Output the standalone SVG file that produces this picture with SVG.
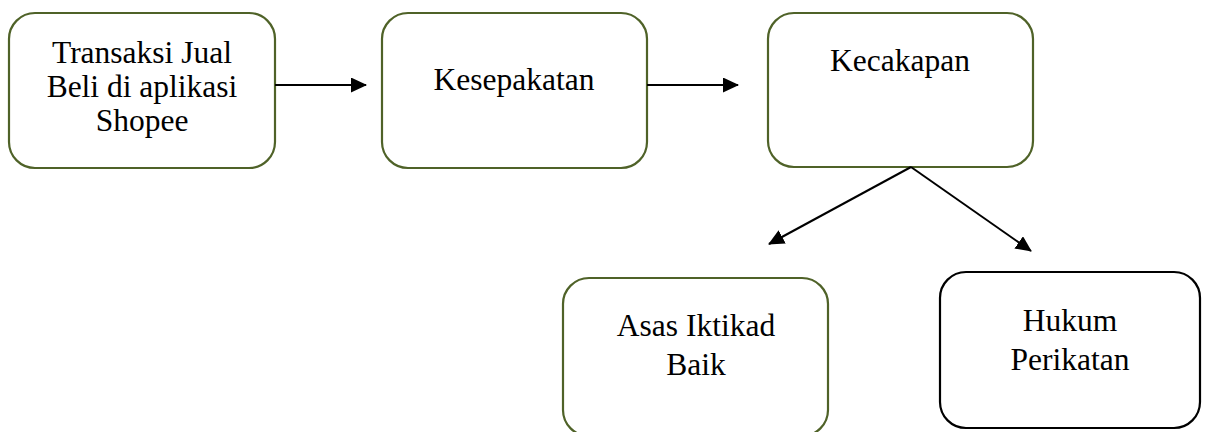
<svg xmlns="http://www.w3.org/2000/svg" width="1208" height="432" viewBox="0 0 1208 432">
<style>
.box{fill:#fff;stroke:#4F6228;stroke-width:2.2}
.boxk{fill:#fff;stroke:#000;stroke-width:2.2}
.t{font-family:'Liberation Serif', Tinos, 'Times New Roman', serif;font-size:31.5px;fill:#000;text-anchor:middle}
.c{stroke:#000;stroke-width:2;fill:none;marker-end:url(#ah)}
</style>
<defs>
<marker id="ah" markerWidth="16" markerHeight="15" refX="15" refY="7.5" orient="auto" markerUnits="userSpaceOnUse" viewBox="0 0 16 15">
<path d="M0,0 L16,7.5 L0,15 z" fill="#000"/>
</marker>
</defs>
<rect width="1208" height="432" fill="#fff"/>
<g id="n1"><rect class="box" x="9" y="13" width="266" height="155" rx="26"/>
<text class="t" x="142" y="63">Transaksi Jual</text>
<text class="t" x="142" y="97">Beli di aplikasi</text>
<text class="t" x="142" y="131">Shopee</text></g>
<g id="n2"><rect class="box" x="382" y="13" width="265" height="155" rx="26"/>
<text class="t" x="514" y="90">Kesepakatan</text></g>
<g id="n3"><rect class="box" x="768" y="13" width="265" height="154" rx="26"/>
<text class="t" x="900" y="71">Kecakapan</text></g>
<g id="n4"><rect class="box" x="563" y="278" width="265" height="158" rx="26"/>
<text class="t" x="696" y="336">Asas Iktikad</text>
<text class="t" x="696" y="375">Baik</text></g>
<g id="n5"><rect class="boxk" x="940" y="272" width="260" height="156" rx="26"/>
<text class="t" x="1070" y="331">Hukum</text>
<text class="t" x="1070" y="370">Perikatan</text></g>
<g id="connectors">
<path class="c" d="M275,85 L366,85"/>
<path class="c" d="M647,85 L738,85"/>
<path class="c" d="M911,167 L769,244"/>
<path class="c" d="M911,167 L1031,251"/>
</g>
</svg>
